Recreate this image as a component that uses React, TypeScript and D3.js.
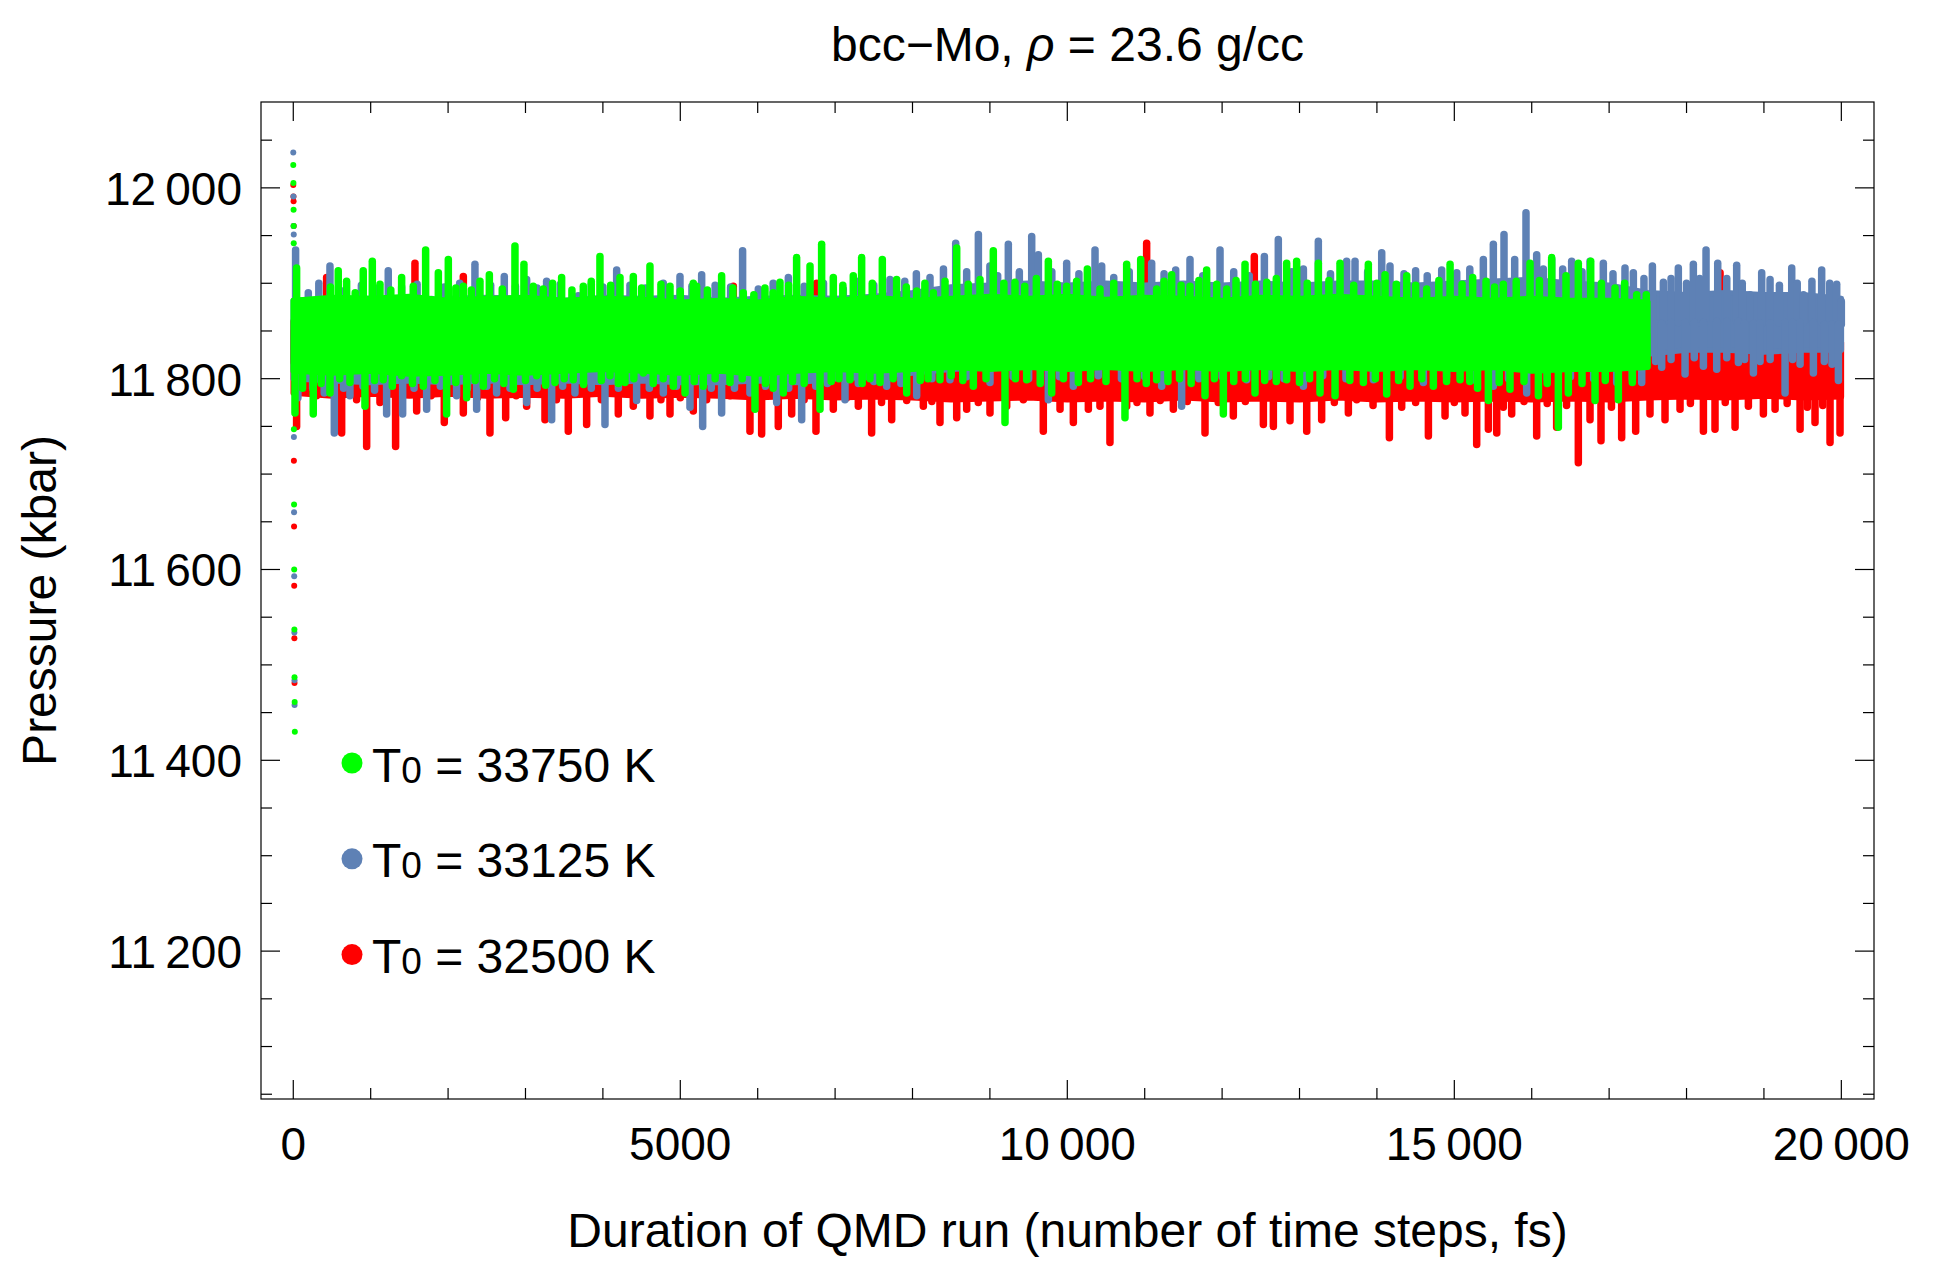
import * as d3 from "d3";

type Tip = [number, number]; // [time (fs), pressure (kbar)]
type Bin = [number, number, number]; // [time, dense-band low, dense-band high]

const W = 1935;
const H = 1276;
const FRAME = { left: 261, right: 1874, top: 102, bottom: 1099 };
const FONT = "'Liberation Sans', Arial, sans-serif";

// ---- T0 = 33750 K (green) ----
const greenStart: Tip[] = [[0, 12024], [2, 12005], [4, 11977], [5, 11960], [6, 11942], [8, 11747], [10, 11668], [12, 11600], [14, 11537], [16, 11487], [18, 11461], [20, 11430]];
const greenCore: Bin[] = [[0, 11808, 11882], [500, 11806, 11885], [1000, 11808, 11884], [1500, 11805, 11886], [2000, 11806, 11882], [2500, 11808, 11884], [3000, 11806, 11885], [3500, 11808, 11882], [4000, 11810, 11884], [4500, 11808, 11883], [5000, 11806, 11880], [5500, 11808, 11882], [6000, 11805, 11880], [6500, 11808, 11884], [7000, 11810, 11882], [7500, 11808, 11885], [8000, 11810, 11882], [8500, 11812, 11884], [9000, 11810, 11886], [9500, 11812, 11884], [10000, 11810, 11886], [10500, 11812, 11883], [11000, 11810, 11885], [11500, 11812, 11884], [12000, 11810, 11882], [12500, 11812, 11885], [13000, 11810, 11884], [13500, 11812, 11886], [14000, 11810, 11884], [14500, 11812, 11882], [15000, 11810, 11884], [15500, 11812, 11882], [16000, 11808, 11884], [16500, 11810, 11882], [17000, 11810, 11882], [17500, 11812, 11880]];
const greenTops: Tip[] = [[43, 11916], [215, 11876], [366, 11881], [480, 11896], [581, 11913], [689, 11902], [800, 11890], [904, 11913], [1021, 11923], [1120, 11899], [1260, 11893], [1400, 11906], [1550, 11897], [1710, 11935], [1874, 11911], [2003, 11925], [2100, 11895], [2197, 11897], [2300, 11893], [2412, 11902], [2533, 11909], [2700, 11894], [2864, 11939], [2980, 11920], [3100, 11897], [3230, 11894], [3350, 11900], [3467, 11906], [3600, 11893], [3747, 11897], [3850, 11902], [3962, 11928], [4100, 11898], [4221, 11906], [4393, 11907], [4500, 11895], [4608, 11918], [4750, 11899], [4867, 11897], [5000, 11892], [5168, 11900], [5211, 11897], [5350, 11893], [5534, 11908], [5680, 11895], [5814, 11890], [5950, 11888], [6094, 11895], [6200, 11890], [6288, 11901], [6400, 11898], [6503, 11927], [6676, 11918], [6826, 11941], [6977, 11906], [7100, 11898], [7235, 11908], [7343, 11927], [7480, 11900], [7610, 11925], [7795, 11904], [7920, 11896], [8054, 11892], [8160, 11900], [8269, 11890], [8420, 11902], [8571, 11937], [8720, 11899], [8872, 11904], [9044, 11934], [9180, 11900], [9324, 11901], [9450, 11897], [9600, 11905], [9755, 11923], [9870, 11899], [9992, 11897], [10120, 11902], [10259, 11915], [10422, 11894], [10600, 11900], [10767, 11920], [10948, 11925], [11154, 11894], [11250, 11902], [11348, 11909], [11470, 11898], [11585, 11897], [11700, 11903], [11800, 11914], [11930, 11899], [12059, 11894], [12180, 11903], [12296, 11920], [12430, 11899], [12576, 11901], [12700, 11905], [12834, 11921], [12963, 11923], [13100, 11900], [13243, 11921], [13380, 11903], [13523, 11921], [13700, 11898], [13889, 11920], [14000, 11900], [14105, 11909], [14250, 11899], [14385, 11908], [14500, 11898], [14643, 11894], [14800, 11903], [14945, 11920], [15100, 11899], [15237, 11906], [15410, 11902], [15520, 11896], [15633, 11899], [15800, 11902], [15978, 11921], [16100, 11903], [16258, 11927], [16443, 11908], [16602, 11921], [16762, 11923], [16900, 11900], [17076, 11895], [17200, 11900], [17356, 11888], [17480, 11888]];
const greenBottoms: Tip[] = [[22, 11764], [120, 11790], [258, 11763], [360, 11795], [474, 11785], [600, 11800], [732, 11796], [926, 11771], [1050, 11798], [1163, 11799], [1280, 11792], [1400, 11803], [1540, 11795], [1680, 11792], [1830, 11798], [1981, 11763], [2100, 11796], [2240, 11780], [2350, 11798], [2455, 11792], [2600, 11800], [2720, 11795], [2843, 11789], [3000, 11798], [3144, 11803], [3260, 11793], [3381, 11796], [3500, 11800], [3618, 11799], [3750, 11794], [3876, 11813], [3980, 11798], [4092, 11803], [4200, 11795], [4285, 11796], [4400, 11800], [4522, 11806], [4650, 11795], [4780, 11800], [4910, 11792], [5061, 11785], [5180, 11797], [5297, 11792], [5450, 11800], [5642, 11796], [5800, 11800], [5965, 11768], [6100, 11795], [6200, 11790], [6331, 11785], [6450, 11797], [6600, 11795], [6805, 11768], [6950, 11797], [7050, 11800], [7192, 11799], [7350, 11795], [7450, 11800], [7580, 11796], [7750, 11800], [7925, 11785], [8100, 11798], [8200, 11800], [8355, 11799], [8500, 11803], [8650, 11798], [8786, 11792], [8950, 11800], [9195, 11754], [9330, 11800], [9475, 11799], [9650, 11795], [9798, 11785], [9950, 11800], [10143, 11796], [10300, 11800], [10500, 11797], [10745, 11759], [10900, 11800], [11020, 11795], [11154, 11799], [11300, 11797], [11450, 11800], [11600, 11795], [11779, 11782], [11900, 11800], [12016, 11763], [12150, 11797], [12300, 11800], [12425, 11785], [12550, 11798], [12700, 11797], [12834, 11799], [13000, 11796], [13130, 11800], [13265, 11785], [13459, 11782], [13650, 11798], [13825, 11796], [13980, 11800], [14126, 11784], [14280, 11798], [14428, 11792], [14580, 11800], [14729, 11792], [14900, 11797], [15074, 11799], [15200, 11797], [15300, 11790], [15440, 11777], [15580, 11796], [15719, 11789], [15900, 11797], [16086, 11782], [16200, 11795], [16344, 11749], [16473, 11785], [16650, 11795], [16818, 11777], [16950, 11798], [17119, 11778], [17300, 11796], [17485, 11813]];

// ---- T0 = 33125 K (blue) ----
const blueStart: Tip[] = [[0, 12037], [2, 11991], [4, 11960], [6, 11951], [8, 11739], [10, 11660], [12, 11593], [14, 11534], [16, 11484], [17, 11458]];
const blueCore: Bin[] = [[0, 11800, 11882], [500, 11798, 11884], [1000, 11796, 11884], [1500, 11798, 11882], [2000, 11796, 11884], [2500, 11798, 11885], [3000, 11796, 11884], [3500, 11798, 11882], [4000, 11796, 11885], [4500, 11798, 11884], [5000, 11796, 11885], [5500, 11796, 11882], [6000, 11798, 11884], [6500, 11796, 11885], [7000, 11800, 11884], [7500, 11802, 11886], [8000, 11806, 11890], [8500, 11810, 11896], [9000, 11812, 11898], [9500, 11812, 11900], [10000, 11812, 11898], [10500, 11814, 11900], [11000, 11812, 11898], [11500, 11814, 11900], [12000, 11812, 11898], [12500, 11814, 11900], [13000, 11814, 11898], [13500, 11812, 11900], [14000, 11814, 11900], [14500, 11812, 11898], [15000, 11814, 11900], [15500, 11812, 11902], [16000, 11812, 11904], [16500, 11814, 11900], [17000, 11816, 11898], [17500, 11826, 11890], [18000, 11830, 11888], [18500, 11830, 11890], [19000, 11828, 11888], [19500, 11830, 11888], [20000, 11830, 11884]];
const blueTops: Tip[] = [[30, 11935], [194, 11890], [330, 11900], [474, 11918], [600, 11893], [732, 11883], [880, 11898], [1050, 11895], [1227, 11913], [1400, 11896], [1600, 11899], [1787, 11883], [1950, 11896], [2150, 11900], [2347, 11920], [2550, 11898], [2726, 11907], [2870, 11897], [3015, 11904], [3150, 11895], [3273, 11902], [3450, 11899], [3682, 11887], [3850, 11899], [4000, 11896], [4178, 11914], [4350, 11898], [4550, 11895], [4780, 11900], [4996, 11907], [5150, 11897], [5276, 11909], [5450, 11898], [5650, 11896], [5805, 11934], [6008, 11894], [6200, 11900], [6396, 11906], [6600, 11897], [6850, 11900], [7106, 11894], [7300, 11902], [7500, 11898], [7709, 11904], [7900, 11902], [8050, 11910], [8226, 11906], [8400, 11915], [8558, 11942], [8700, 11912], [8851, 11951], [9000, 11918], [9100, 11908], [9238, 11941], [9380, 11912], [9540, 11949], [9626, 11930], [9800, 11912], [9992, 11921], [10150, 11910], [10358, 11935], [10444, 11918], [10600, 11906], [10800, 11912], [11090, 11921], [11250, 11910], [11400, 11914], [11585, 11925], [11750, 11908], [11973, 11935], [12150, 11912], [12350, 11908], [12546, 11928], [12726, 11946], [12900, 11912], [13050, 11915], [13243, 11944], [13400, 11910], [13609, 11923], [13717, 11923], [13880, 11912], [14062, 11932], [14169, 11918], [14350, 11910], [14500, 11913], [14650, 11908], [14837, 11914], [15031, 11911], [15200, 11915], [15375, 11925], [15504, 11941], [15642, 11951], [15780, 11925], [15926, 11974], [16064, 11930], [16150, 11915], [16258, 11925], [16400, 11915], [16516, 11923], [16650, 11912], [16753, 11923], [16925, 11921], [17050, 11910], [17205, 11916], [17313, 11911], [17450, 11905], [17559, 11918], [17701, 11901], [17800, 11905], [17894, 11916], [18000, 11900], [18088, 11920], [18170, 11905], [18252, 11935], [18403, 11921], [18520, 11905], [18648, 11919], [18720, 11900], [18820, 11888], [18971, 11911], [19079, 11904], [19200, 11898], [19359, 11916], [19430, 11900], [19510, 11888], [19620, 11902], [19746, 11914], [19850, 11900], [19940, 11899], [20000, 11881]];
const blueBottoms: Tip[] = [[60, 11780], [250, 11790], [400, 11785], [530, 11743], [650, 11790], [732, 11782], [900, 11792], [1050, 11788], [1206, 11763], [1413, 11763], [1560, 11790], [1723, 11768], [1900, 11792], [2110, 11782], [2250, 11790], [2369, 11768], [2500, 11792], [2627, 11785], [2800, 11790], [3015, 11775], [3150, 11790], [3338, 11757], [3480, 11792], [3639, 11785], [3850, 11790], [4027, 11752], [4200, 11790], [4436, 11777], [4600, 11790], [4781, 11785], [4950, 11792], [5125, 11770], [5289, 11750], [5400, 11790], [5534, 11764], [5700, 11790], [5900, 11785], [6100, 11792], [6245, 11775], [6400, 11790], [6568, 11757], [6750, 11792], [6900, 11795], [7128, 11778], [7300, 11795], [7500, 11797], [7666, 11792], [7850, 11795], [8054, 11782], [8250, 11800], [8484, 11799], [8700, 11802], [9001, 11796], [9300, 11802], [9500, 11800], [9755, 11778], [9900, 11802], [10078, 11792], [10400, 11803], [10700, 11800], [11000, 11802], [11219, 11792], [11477, 11771], [11700, 11800], [12000, 11802], [12317, 11799], [12600, 11802], [12800, 11800], [13050, 11792], [13300, 11803], [13600, 11800], [13954, 11799], [14300, 11802], [14600, 11796], [14900, 11802], [15246, 11799], [15504, 11792], [15700, 11800], [15935, 11785], [16200, 11800], [16500, 11802], [16800, 11800], [17098, 11796], [17300, 11800], [17421, 11796], [17600, 11818], [17679, 11812], [17800, 11820], [17981, 11805], [18100, 11822], [18218, 11813], [18390, 11810], [18520, 11822], [18670, 11817], [18750, 11820], [18864, 11806], [18950, 11818], [19080, 11820], [19273, 11785], [19370, 11820], [19467, 11815], [19639, 11806], [19780, 11818], [19880, 11815], [19962, 11798]];

// ---- T0 = 32500 K (red) ----
const redStart: Tip[] = [[0, 12003], [2, 11991], [4, 11986], [6, 11960], [8, 11714], [10, 11645], [12, 11583], [14, 11528], [16, 11481]];
const redCore: Bin[] = [[0, 11785, 11850], [500, 11782, 11852], [1000, 11784, 11850], [1500, 11782, 11852], [2000, 11784, 11850], [2500, 11782, 11850], [3000, 11783, 11852], [3500, 11782, 11850], [4000, 11784, 11852], [4500, 11782, 11850], [5000, 11783, 11850], [5500, 11782, 11852], [6000, 11780, 11850], [6500, 11782, 11850], [7000, 11780, 11852], [7500, 11781, 11850], [8000, 11780, 11850], [8500, 11778, 11848], [9000, 11779, 11850], [9500, 11780, 11848], [10000, 11778, 11850], [10500, 11779, 11848], [11000, 11778, 11850], [11500, 11780, 11848], [12000, 11778, 11850], [12500, 11779, 11848], [13000, 11778, 11850], [13500, 11780, 11848], [14000, 11778, 11850], [14500, 11779, 11848], [15000, 11778, 11848], [15500, 11779, 11846], [16000, 11778, 11846], [16500, 11779, 11845], [17000, 11778, 11842], [17500, 11780, 11840], [18000, 11781, 11840], [18500, 11780, 11840], [19000, 11782, 11838], [19500, 11780, 11838], [20000, 11781, 11838]];
const redTops: Tip[] = [[10, 11860], [431, 11906], [1572, 11921], [2197, 11907], [3300, 11880], [4781, 11897], [5685, 11897], [6762, 11900], [8000, 11880], [9500, 11880], [11025, 11942], [12416, 11928], [14000, 11880], [16000, 11880], [17937, 11876], [18260, 11887], [18433, 11911], [18778, 11887], [19300, 11860]];
const redBottoms: Tip[] = [[43, 11750], [180, 11790], [301, 11782], [450, 11788], [625, 11743], [818, 11778], [948, 11729], [1120, 11775], [1322, 11729], [1450, 11785], [1594, 11766], [1780, 11782], [1951, 11754], [2197, 11764], [2380, 11780], [2541, 11743], [2744, 11759], [2880, 11782], [3015, 11771], [3252, 11757], [3400, 11778], [3553, 11745], [3790, 11752], [3980, 11778], [4199, 11763], [4393, 11771], [4608, 11761], [4750, 11778], [4867, 11763], [5000, 11780], [5168, 11766], [5340, 11778], [5642, 11782], [5900, 11745], [6051, 11742], [6266, 11750], [6439, 11763], [6600, 11778], [6753, 11745], [6977, 11768], [7150, 11780], [7300, 11771], [7472, 11743], [7600, 11775], [7731, 11757], [7925, 11777], [8140, 11771], [8250, 11776], [8355, 11754], [8571, 11759], [8700, 11768], [8850, 11775], [9001, 11764], [9217, 11771], [9432, 11778], [9690, 11745], [9906, 11768], [10078, 11754], [10272, 11768], [10422, 11771], [10551, 11733], [10767, 11771], [10900, 11775], [11068, 11764], [11200, 11777], [11370, 11768], [11550, 11776], [11779, 11743], [11950, 11775], [12145, 11761], [12300, 11776], [12533, 11752], [12662, 11750], [12877, 11756], [13093, 11745], [13286, 11757], [13450, 11775], [13631, 11764], [13739, 11778], [13950, 11772], [14161, 11738], [14320, 11770], [14500, 11775], [14665, 11740], [14880, 11761], [15000, 11775], [15138, 11764], [15289, 11731], [15440, 11747], [15548, 11743], [15633, 11770], [15741, 11763], [15900, 11776], [16064, 11740], [16200, 11774], [16322, 11749], [16450, 11772], [16602, 11712], [16753, 11757], [16895, 11735], [17030, 11770], [17162, 11738], [17343, 11745], [17528, 11763], [17722, 11757], [17916, 11768], [18050, 11774], [18218, 11745], [18368, 11747], [18500, 11775], [18627, 11749], [18799, 11771], [18993, 11763], [19144, 11768], [19300, 11774], [19467, 11747], [19560, 11770], [19660, 11754], [19760, 11772], [19854, 11733], [19983, 11743]];

const xMajorTicks = [0, 5000, 10000, 15000, 20000];
const yMajorTicks = [11200, 11400, 11600, 11800, 12000];

// drawn bottom to top: red, blue, green
const layers = [
  { color: "#ff0000", core: redCore, tops: redTops, bottoms: redBottoms, start: redStart },
  { color: "#5e81b5", core: blueCore, tops: blueTops, bottoms: blueBottoms, start: blueStart },
  { color: "#00ff00", core: greenCore, tops: greenTops, bottoms: greenBottoms, start: greenStart },
];

const legendItems = [
  { label: "33750", color: "#00ff00" },
  { label: "33125", color: "#5e81b5" },
  { label: "32500", color: "#ff0000" },
];

// Mathematica-style digit grouping: 12 000, 10 000
const fmt = (n: number) =>
  n >= 10000 ? `${Math.floor(n / 1000)}\u2009${String(n % 1000).padStart(3, "0")}` : String(n);

const DOT = 5.6; // point diameter
const STREAK = 7.5; // width of a cluster of consecutive points

export default function App() {
  const x = d3.scaleLinear().domain([-417, 20422]).range([FRAME.left, FRAME.right]);
  const y = d3.scaleLinear().domain([11045, 12090]).range([FRAME.bottom, FRAME.top]);

  const area = d3
    .area<Bin>()
    .x((d) => x(d[0]))
    .y0((d) => y(d[1]))
    .y1((d) => y(d[2]));

  const bisect = d3.bisector((d: Bin) => d[0]);
  const mid = (core: Bin[], t: number) => {
    const b = core[bisect.center(core, t)];
    return (b[1] + b[2]) / 2;
  };

  const xMinor = d3.range(0, 20001, 1000).filter((t) => !xMajorTicks.includes(t));
  const yMinor = d3.range(11050, 12051, 50).filter((v) => !yMajorTicks.includes(v));

  return (
    <svg width={W} height={H} style={{ position: "absolute", left: 0, top: 0, background: "#fff" }} fontFamily={FONT}>
      {/* data */}
      {layers.map((s, i) => (
        <g key={i}>
          <path d={area(s.core) || ""} fill={s.color} stroke={s.color} strokeWidth={DOT} strokeLinejoin="round" />
          {[...s.tops, ...s.bottoms].map((d, j) => (
            <line
              key={j}
              x1={x(d[0])}
              x2={x(d[0])}
              y1={y(mid(s.core, d[0]))}
              y2={y(d[1])}
              stroke={s.color}
              strokeWidth={STREAK}
              strokeLinecap="round"
            />
          ))}
          {s.start.map((d, j) => (
            <circle key={`s${j}`} cx={x(d[0])} cy={y(d[1])} r={3} fill={s.color} />
          ))}
        </g>
      ))}

      {/* frame */}
      <rect
        x={FRAME.left}
        y={FRAME.top}
        width={FRAME.right - FRAME.left}
        height={FRAME.bottom - FRAME.top}
        fill="none"
        stroke="#000"
        strokeWidth={1.2}
      />

      {/* ticks */}
      <g stroke="#000" strokeWidth={1.2}>
        {xMajorTicks.map((t) => (
          <g key={`xm${t}`}>
            <line x1={x(t)} x2={x(t)} y1={FRAME.bottom} y2={FRAME.bottom - 19} />
            <line x1={x(t)} x2={x(t)} y1={FRAME.top} y2={FRAME.top + 19} />
          </g>
        ))}
        {xMinor.map((t) => (
          <g key={`xn${t}`}>
            <line x1={x(t)} x2={x(t)} y1={FRAME.bottom} y2={FRAME.bottom - 11} />
            <line x1={x(t)} x2={x(t)} y1={FRAME.top} y2={FRAME.top + 11} />
          </g>
        ))}
        {yMajorTicks.map((v) => (
          <g key={`ym${v}`}>
            <line x1={FRAME.left} x2={FRAME.left + 19} y1={y(v)} y2={y(v)} />
            <line x1={FRAME.right} x2={FRAME.right - 19} y1={y(v)} y2={y(v)} />
          </g>
        ))}
        {yMinor.map((v) => (
          <g key={`yn${v}`}>
            <line x1={FRAME.left} x2={FRAME.left + 11} y1={y(v)} y2={y(v)} />
            <line x1={FRAME.right} x2={FRAME.right - 11} y1={y(v)} y2={y(v)} />
          </g>
        ))}
      </g>

      {/* tick labels */}
      <g fontSize={46} fill="#000">
        {xMajorTicks.map((t) => (
          <text key={`xl${t}`} x={x(t)} y={1160} textAnchor="middle">
            {fmt(t)}
          </text>
        ))}
        {yMajorTicks.map((v) => (
          <text key={`yl${v}`} x={242} y={y(v) + 17} textAnchor="end">
            {fmt(v)}
          </text>
        ))}
      </g>

      {/* titles */}
      <text x={(FRAME.left + FRAME.right) / 2} y={61} textAnchor="middle" fontSize={48}>
        bcc−Mo, <tspan fontStyle="italic">ρ</tspan> = 23.6 g/cc
      </text>
      <text x={(FRAME.left + FRAME.right) / 2} y={1247} textAnchor="middle" fontSize={48}>
        Duration of QMD run (number of time steps, fs)
      </text>
      <text
        transform={`translate(56,${(FRAME.top + FRAME.bottom) / 2}) rotate(-90)`}
        textAnchor="middle"
        fontSize={48}
      >
        Pressure (kbar)
      </text>

      {/* legend */}
      {legendItems.map((d, i) => {
        const cy = 763 + i * 95.8;
        return (
          <g key={d.label}>
            <circle cx={352} cy={cy} r={10.5} fill={d.color} />
            <text x={372} y={cy + 18.5} fontSize={48}>
              T<tspan fontSize={37} dy={1}>0</tspan>
              <tspan dy={-1}> = {d.label} K</tspan>
            </text>
          </g>
        );
      })}
    </svg>
  );
}
